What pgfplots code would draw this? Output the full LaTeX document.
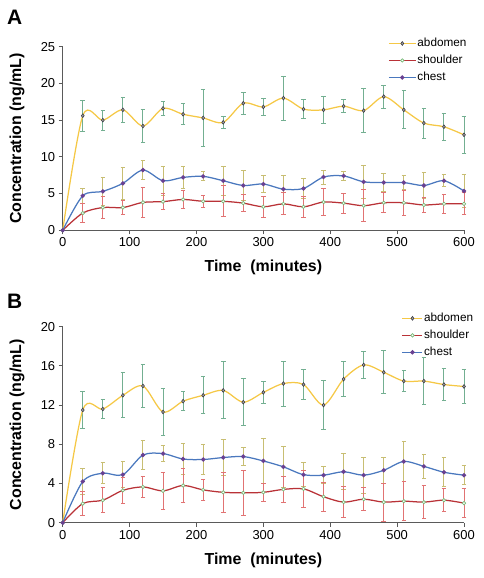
\documentclass[border=0pt]{standalone}
\usepackage{fontspec}
\setmainfont{Liberation Sans}
\usepackage{pgfplots}
\pgfplotsset{compat=1.18}
\usepackage{pgfplotstable}

\definecolor{abdL}{RGB}{245,200,70}
\definecolor{abdE}{RGB}{115,175,145}
\definecolor{shoL}{RGB}{185,50,55}
\definecolor{shoE}{RGB}{225,115,115}
\definecolor{cheL}{RGB}{74,120,190}
\definecolor{cheE}{RGB}{200,190,115}
\definecolor{abdM}{RGB}{60,60,70}
\definecolor{cheM}{RGB}{105,65,145}
\definecolor{shoM}{RGB}{120,185,120}
\definecolor{axc}{RGB}{90,90,90}

\pgfplotstableread{
t m e
0 0 0
30 15.6 2.1
60 15.0 1.35
90 16.4 1.7
120 14.2 2.2
150 16.6 1.0
180 15.8 1.4
210 15.3 3.85
240 14.7 0.8
270 17.3 1.5
300 16.8 1.1
330 18.0 3.0
360 16.5 1.3
390 16.4 1.85
420 16.9 0.87
450 16.3 3.0
480 18.2 1.55
510 16.4 2.6
540 14.6 2.05
570 14.1 1.85
600 13.0 2.5
}\topabd
\pgfplotstableread{
t m e
0 0 0
30 2.35 1.3
60 3.1 1.5
90 3.1 0.95
120 3.8 2.0
150 3.9 1.1
180 4.2 1.2
210 3.95 0.85
240 3.95 2.1
270 3.7 1.2
300 3.2 1.4
330 3.6 1.5
360 3.2 1.45
390 3.85 1.85
420 3.7 1.35
450 3.35 2.2
480 3.75 1.35
510 3.75 1.7
540 3.45 1.05
570 3.6 1.25
600 3.6 1.5
}\topsho
\pgfplotstableread{
t m e
0 0 0
30 4.7 1.0
60 5.3 1.9
90 6.4 2.15
120 8.2 1.3
150 6.75 1.95
180 7.2 1.5
210 7.35 0.6
240 6.75 2.0
270 6.1 2.1
300 6.3 1.2
330 5.6 1.9
360 5.7 1.35
390 7.25 0.95
420 7.4 0.65
450 6.6 2.25
480 6.5 1.2
510 6.5 1.0
540 6.1 1.75
570 6.75 0.8
600 5.35 2.2
}\topche
\pgfplotstableread{
t m e
0 0 0
30 11.5 1.9
60 11.6 1.0
90 13.0 2.3
120 13.95 2.15
150 11.3 2.4
180 12.4 1.0
210 13.0 1.9
240 13.5 2.9
270 12.3 2.4
300 13.3 1.1
330 14.2 2.3
360 14.1 1.55
390 12.0 2.5
420 14.65 1.8
450 16.1 1.4
480 15.35 2.2
510 14.45 1.05
540 14.45 2.4
570 14.1 1.65
600 13.9 1.75
}\botabd
\pgfplotstableread{
t m e
0 0 0
30 1.95 1.25
60 2.3 1.3
90 3.3 1.35
120 3.65 1.05
150 3.25 1.9
180 3.8 1.7
210 3.35 1.05
240 3.1 2.05
270 3.05 2.3
300 3.1 0.95
330 3.4 1.35
360 3.45 1.85
390 2.65 1.5
420 2.1 1.6
450 2.4 1.2
480 2.1 1.95
510 2.2 2.0
540 2.1 1.65
570 2.3 1.2
600 2.0 1.45
}\botsho
\pgfplotstableread{
t m e
0 0 0
30 4.2 1.35
60 5.05 1.05
90 4.9 1.3
120 6.9 1.45
150 7.05 0.85
180 6.5 1.6
210 6.45 1.55
240 6.65 1.8
270 6.75 0.9
300 6.3 2.3
330 5.7 2.1
360 4.9 1.2
390 4.85 0.9
420 5.2 1.85
450 4.85 1.85
480 5.35 1.35
510 6.25 2.0
540 5.75 1.2
570 5.15 1.5
600 4.85 0.95
}\botche

\pgfplotsset{
  panel/.style={
    scale only axis, width=401.3bp,
    xmin=0, xmax=600, xtick={0,100,...,600},
    axis lines=left, axis line style={-, axc, line width=1bp},
    tick align=outside, major tick length=4bp,
    every tick/.style={axc, line width=1bp},
    /pgf/number format/assume math mode=true,
    tick label style={font=\fontsize{13}{13}\selectfont, text=black},
    xlabel={Time\ \ (minutes)}, ylabel={Concentration (ng/mL)},
    every axis x label/.style={at={(axis description cs:0.5,0)}, anchor=center, yshift=-37.5bp, font=\fontsize{16}{16}\selectfont\bfseries},
    every axis y label/.style={at={(axis description cs:-0.114,0.5)}, anchor=center, rotate=90, font=\fontsize{16}{16}\selectfont\bfseries},
    clip=false,
    legend style={draw=none, fill=none, inner sep=0pt, row sep=0pt,
      font=\fontsize{11.8}{11.8}\selectfont,
      nodes={inner ysep=0pt, inner xsep=1pt, minimum height=17bp}},
    legend cell align=left,
  },
  ebar/.style={draw=none, mark=none, forget plot, restrict x to domain=10:700,
    error bars/.cd, y dir=both, y explicit,
    error bar style={color=#1, line width=1bp},
    error mark options={rotate=90, mark size=2.3bp, line width=1bp, color=#1}},
  curve/.style={smooth, line width=1.25bp},
}

\begin{document}
\begin{tikzpicture}
\path[use as bounding box] (0bp,0bp) rectangle (484bp,-578bp);
\node[anchor=base west, inner sep=0pt] at (7bp,-24bp) {\fontsize{21}{21}\selectfont\bfseries A};
\node[anchor=base west, inner sep=0pt] at (7bp,-308bp) {\fontsize{21}{21}\selectfont\bfseries B};

\begin{axis}[panel, at={(62.7bp,-230.3bp)}, anchor=south west, height=183.6bp,
  ymin=0, ymax=25, ytick={0,5,...,25},
  legend style={at={(axis description cs:0.8106,1.065)}, anchor=north west},
  legend image code/.code={\draw[mark repeat=2,mark phase=2,#1] plot coordinates {(0bp,0bp) (13.5bp,0bp) (27bp,0bp)};}]
\addplot[ebar=abdE] table[x=t,y=m,y error=e] {\topabd};
\addplot[ebar=cheE] table[x=t,y=m,y error=e] {\topche};
\addplot[ebar=shoE] table[x=t,y=m,y error=e] {\topsho};
\addplot[curve, color=abdL, mark=diamond*, mark size=1.9bp, mark options={fill=gray!70, draw=abdM, line width=0.6bp}] table[x=t,y=m] {\topabd};
\addlegendentry{abdomen}
\addplot[curve, color=shoL, mark=*, mark size=1.7bp, mark options={fill=white, draw=shoM, line width=0.7bp}] table[x=t,y=m] {\topsho};
\addlegendentry{shoulder}
\addplot[curve, color=cheL, mark=*, mark size=1.5bp, mark options={fill=cheM, draw=cheM}] table[x=t,y=m] {\topche};
\addlegendentry{chest}
\end{axis}

\begin{axis}[panel, at={(62.7bp,-522.7bp)}, anchor=south west, height=196bp,
  ymin=0, ymax=20, ytick={0,4,...,20},
  legend style={at={(axis description cs:0.8446,1.087)}, anchor=north west},
  legend image code/.code={\draw[mark repeat=2,mark phase=2,#1] plot coordinates {(0bp,0bp) (10bp,0bp) (20bp,0bp)};}]
\addplot[ebar=abdE] table[x=t,y=m,y error=e] {\botabd};
\addplot[ebar=cheE] table[x=t,y=m,y error=e] {\botche};
\addplot[ebar=shoE] table[x=t,y=m,y error=e] {\botsho};
\addplot[curve, color=abdL, mark=diamond*, mark size=1.9bp, mark options={fill=gray!70, draw=abdM, line width=0.6bp}] table[x=t,y=m] {\botabd};
\addlegendentry{abdomen}
\addplot[curve, color=shoL, mark=*, mark size=1.7bp, mark options={fill=white, draw=shoM, line width=0.7bp}] table[x=t,y=m] {\botsho};
\addlegendentry{shoulder}
\addplot[curve, color=cheL, mark=*, mark size=1.5bp, mark options={fill=cheM, draw=cheM}] table[x=t,y=m] {\botche};
\addlegendentry{chest}
\end{axis}
\end{tikzpicture}
\end{document}
